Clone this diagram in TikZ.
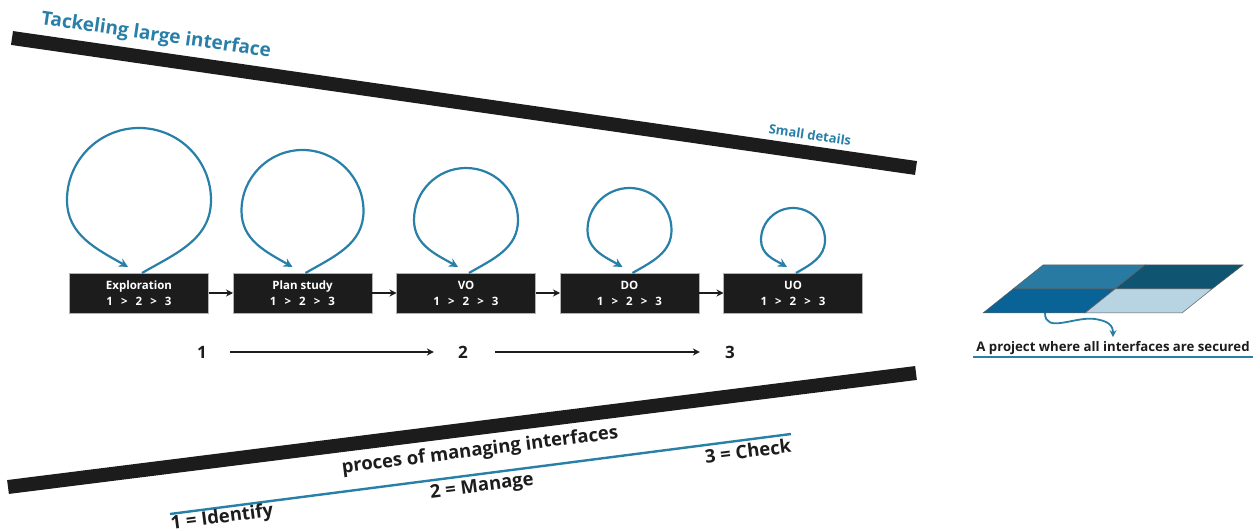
\documentclass[tikz,border=0pt]{standalone}
\usepackage{fontspec}
\setmainfont{Open Sans}
\usepackage{tikz}
\usetikzlibrary{arrows.meta,positioning,calc}
\definecolor{accent}{RGB}{40,127,167}
\definecolor{ink}{RGB}{28,28,28}
\definecolor{cellmid}{RGB}{41,122,162}
\definecolor{celldark}{RGB}{15,84,112}
\definecolor{celldeep}{RGB}{10,99,150}
\definecolor{celllight}{RGB}{184,212,226}
\newcommand{\px}[1]{\fontsize{#1}{#1}\selectfont}
\newcommand{\seq}{1\hspace{.7em}>\hspace{.7em}2\hspace{.7em}>\hspace{.7em}3}
\newcommand{\selfloop}[3]{%
  \draw[loopy] ($(#1.north)+(3,0)$) to[out=30,in=-90] ($(#1.north)+(#2,#2+1)$)
    arc[start angle=0,end angle=180,radius=#2]
    to[out=-90,in=150] ($(#1.north)+(-#3,6)$);}
\tikzset{
  bar/.style={draw=ink,line width=14pt,line cap=butt},
  phase/.style={draw=gray!60,fill=ink,text=white,align=center,font=\bfseries\fontsize{11.5}{16}\selectfont,
                minimum width=139pt,minimum height=40pt,inner sep=0pt,outer sep=0pt},
  flow/.style={->,draw=ink,line width=1.6pt},
  loopy/.style={-{Stealth[length=9pt,width=9pt]},draw=accent,line width=2.2pt},
  ttl/.style={text=accent,font=\bfseries\px{19},inner sep=1pt},
  txt/.style={text=ink,font=\bfseries\px{18.5},inner sep=1pt},
  num/.style={text=ink,font=\bfseries\px{17},inner sep=1pt},
  cell/.style={draw=ink!70,line width=0.5pt},
}
\begin{document}
\begin{tikzpicture}[x=1pt,y=1pt,>={Stealth[length=7pt,width=7pt]}]
  \useasboundingbox (0,0) rectangle (1260,530);

  % slanted bars
  \draw[bar] (12,492) -- (916,362);
  \draw[bar] (8,43) -- (916,157);
  \draw[accent,line width=2.4pt] (170,16) -- (791,96);

  \node[ttl,rotate=-8.2] (large) at (156,494) {Tackeling large interface};
  \node[ttl,font=\bfseries\px{13},rotate=-8.2] (small) at (810,395) {Small details};
  \node[txt,rotate=7.2] (proc) at (480,79) {proces of managing interfaces};
  \node[txt,rotate=7.3] (ident) at (222,12) {1 = Identify};
  \node[txt,rotate=7.3] (manage) at (482,43) {2 = Manage};
  \node[txt,rotate=7.3] (check) at (748,79) {3 = Check};

  % phases
  \node[phase] (expl) at (139,237) {Exploration\\\seq};
  \node[phase,right=24.5pt of expl] (plan) {Plan study\\\seq};
  \node[phase,right=24.5pt of plan] (vo) {VO\\\seq};
  \node[phase,right=24.5pt of vo] (do) {DO\\\seq};
  \node[phase,right=24.5pt of do] (uo) {UO\\\seq};
  \draw[flow] (expl) -- (plan);
  \draw[flow] (plan) -- (vo);
  \draw[flow] (vo) -- (do);
  \draw[flow] (do) -- (uo);

  \selfloop{expl}{72}{11}
  \selfloop{plan}{61}{10}
  \selfloop{vo}{52}{8}
  \selfloop{do}{42}{7}
  \selfloop{uo}{32}{6}

  % steps
  \node[num] (n1) at (202,178) {1};
  \node[num] (n2) at (463,178) {2};
  \node[num] (n3) at (730,178) {3};
  \draw[flow,shorten <=22pt,shorten >=23pt] (n1) -- (n2);
  \draw[flow,shorten <=26pt,shorten >=24pt] (n2) -- (n3);

  % secured project
  \coordinate (pa) at (983,217);  \coordinate (pb) at (1085,217);  \coordinate (pc) at (1182,217);
  \coordinate (pd) at (1013,241); \coordinate (pe) at (1115,241);  \coordinate (pf) at (1212,241);
  \coordinate (pg) at (1043,265); \coordinate (ph) at (1145,265);  \coordinate (pi) at (1243,265);
  \fill[cellmid,cell] (pd) -- (pg) -- (ph) -- (pe) -- cycle;
  \fill[celldark,cell] (pe) -- (ph) -- (pi) -- (pf) -- cycle;
  \fill[celldeep,cell] (pa) -- (pd) -- (pe) -- (pb) -- cycle;
  \fill[celllight,cell] (pb) -- (pe) -- (pf) -- (pc) -- cycle;
  \node[text=ink,font=\bfseries\px{13.2},inner sep=1pt] (proj) at (1113,182)
    {A project where all interfaces are secured};
  \draw[accent,line width=2pt] ($(proj.south west)+(-2,-1)$) -- ($(proj.south east)+(2,-1)$);
  \coordinate (src) at (1045,217);
  \coordinate (tip) at ($(proj.north)+(0,3)$);
  \draw[-{Stealth[length=7pt,width=7pt]},accent,line width=1.8pt] (src)
    .. controls (1045,196) and (1075,214) .. (1095,211)
    .. controls (1108,209) and (1113,205) .. (tip);
\end{tikzpicture}
\end{document}
